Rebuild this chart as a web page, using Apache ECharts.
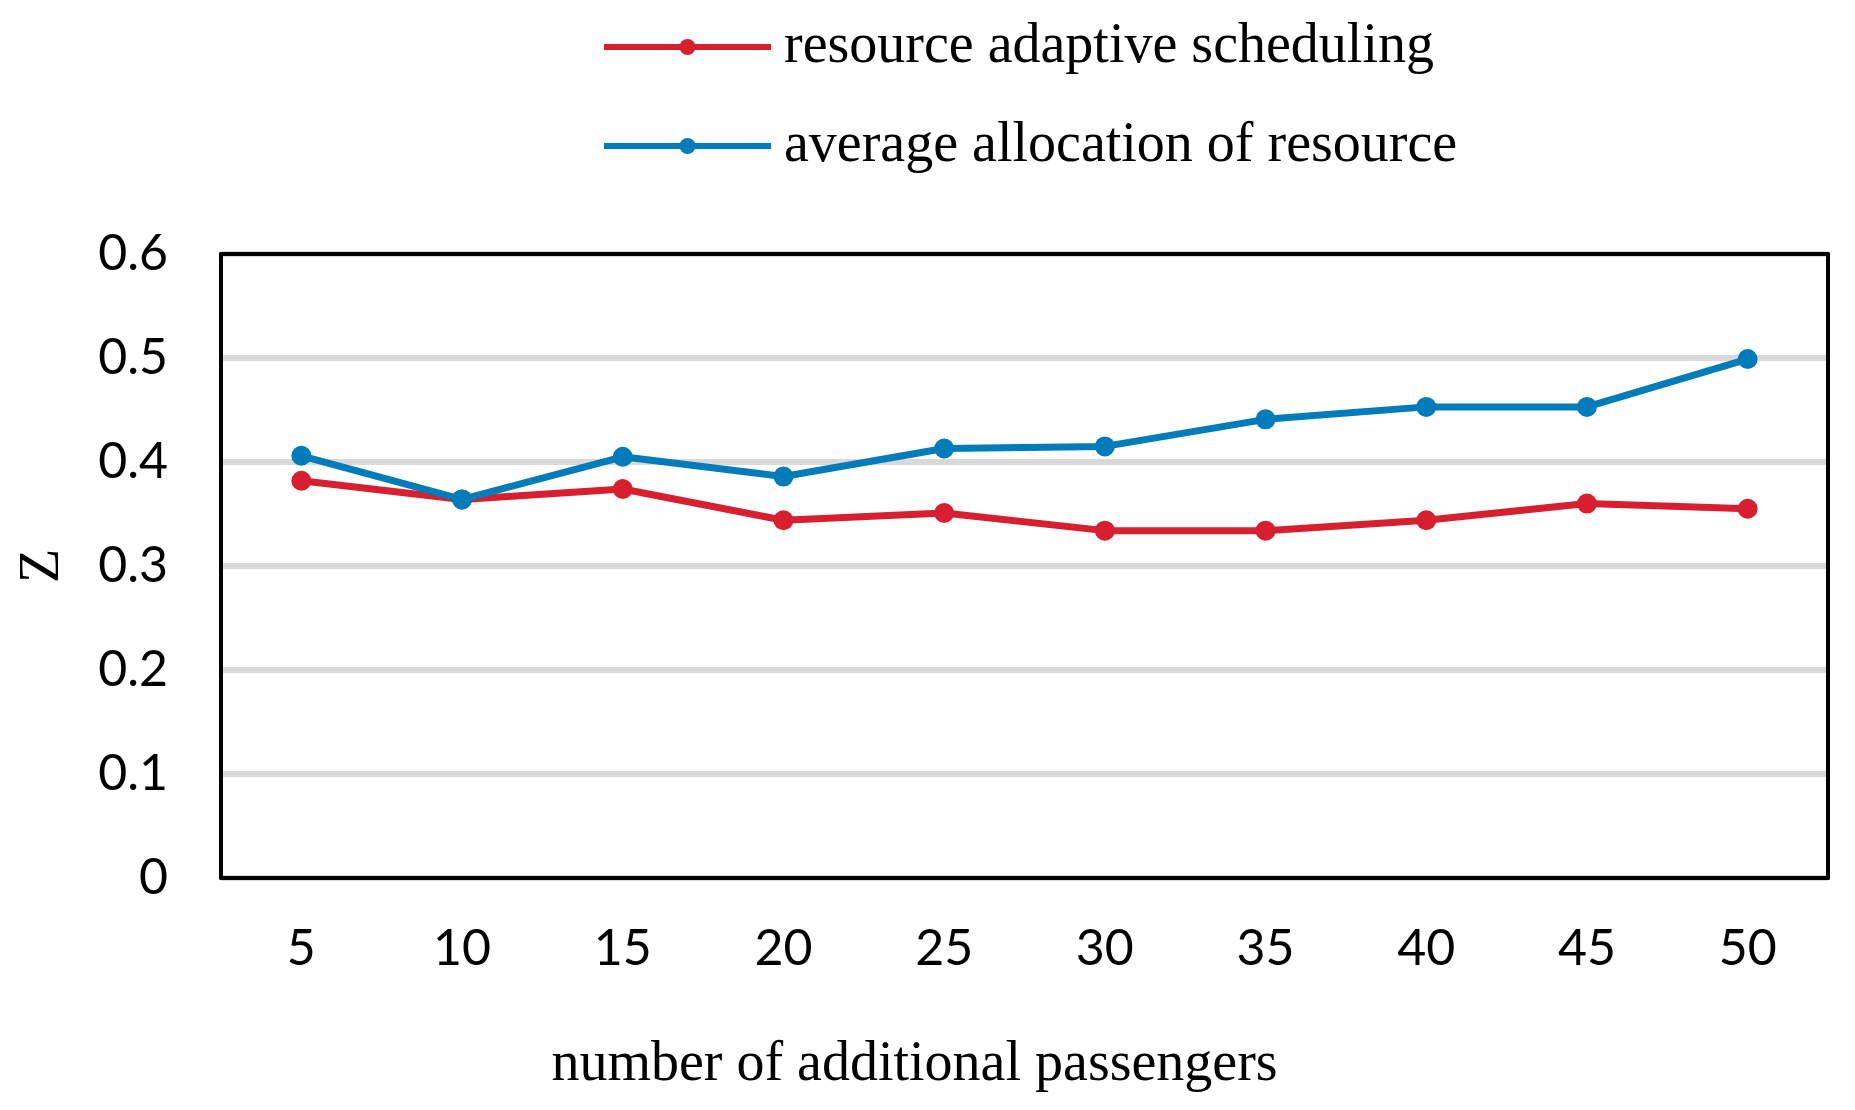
<!DOCTYPE html>
<html>
<head>
<meta charset="utf-8">
<script src="https://cdn.jsdelivr.net/npm/echarts@6/dist/echarts.min.js"></script>
<style>
html,body{margin:0;padding:0;background:#fff;}
#chart{width:1855px;height:1110px;}
</style>
</head>
<body>
<div id="chart"></div>
<script>
const categories = ['5','10','15','20','25','30','35','40','45','50'];
const seriesNames = ['resource adaptive scheduling','average allocation of resource'];
const adaptiveValues = [0.382,0.364,0.374,0.344,0.351,0.334,0.334,0.344,0.360,0.355];
const averageValues = [0.406,0.364,0.405,0.386,0.413,0.415,0.441,0.453,0.453,0.499];
const yTickLabels = ['0','0.1','0.2','0.3','0.4','0.5','0.6'];
const xAxisTitle = 'number of additional passengers';
const yAxisTitle = 'Z';

const RED = '#d71f2f';
const BLUE = '#007cba';
const serif = '"Liberation Serif", "Times New Roman", serif';
const sans = 'Lato, "Open Sans", sans-serif';

const chart = echarts.init(document.getElementById('chart'), null, {renderer:'canvas'});
chart.setOption({
  animation:false,
  backgroundColor:'#fff',
  legend:{
    orient:'vertical',
    left:596,
    top:12,
    itemWidth:167,
    itemHeight:20,
    itemGap:39,
    lineStyle:{width:6},
    textStyle:{fontFamily:serif,fontSize:56,color:'#000',lineHeight:60,padding:[0,0,0,8]},
    data:seriesNames
  },
  grid:{
    left:221,right:27,top:254,bottom:232,
    show:false,
    containLabel:false
  },
  xAxis:[{
    type:'category',
    data:categories,
    boundaryGap:true,
    axisLine:{show:true,onZero:false,lineStyle:{color:'#000',width:4}},
    axisTick:{show:false},
    axisLabel:{fontFamily:sans,fontSize:50,color:'#000',margin:46},
    name:xAxisTitle,
    nameLocation:'middle',
    nameGap:159,
    nameTextStyle:{fontFamily:serif,fontSize:56,color:'#000',lineHeight:56,padding:[0,220,0,0]},
    z:5
  },{
    type:'category',
    data:categories,
    position:'top',
    boundaryGap:true,
    axisLine:{show:true,onZero:false,lineStyle:{color:'#000',width:4}},
    axisTick:{show:false},
    axisLabel:{show:false},
    splitLine:{show:false},
    z:10
  }],
  yAxis:[{
    type:'value',
    min:0,max:0.6,interval:0.1,
    axisLine:{show:true,onZero:false,lineStyle:{color:'#000',width:4}},
    axisTick:{show:false},
    axisLabel:{
      fontFamily:sans,fontSize:50,color:'#000',margin:53,
      formatter:function(v){return yTickLabels[Math.round(v*10)];}
    },
    splitLine:{show:true,lineStyle:{color:'#d9d9d9',width:6}},
    name:yAxisTitle,
    nameLocation:'middle',
    nameGap:150,
    nameTextStyle:{fontFamily:serif,fontSize:56,color:'#000',lineHeight:56},
    z:2
  },{
    type:'value',
    min:0,max:0.6,interval:0.1,
    position:'right',
    axisLine:{show:true,onZero:false,lineStyle:{color:'#000',width:4}},
    axisTick:{show:false},
    axisLabel:{show:false},
    splitLine:{show:false},
    z:10
  }],
  series:[
    {
      name:seriesNames[0],type:'line',data:adaptiveValues,
      xAxisIndex:0,yAxisIndex:0,
      symbol:'circle',symbolSize:20,
      lineStyle:{color:RED,width:7},
      itemStyle:{color:RED},
      z:3
    },
    {
      name:seriesNames[1],type:'line',data:averageValues,
      xAxisIndex:0,yAxisIndex:0,
      symbol:'circle',symbolSize:20,
      lineStyle:{color:BLUE,width:7},
      itemStyle:{color:BLUE},
      z:4
    }
  ]
});
</script>
</body>
</html>
